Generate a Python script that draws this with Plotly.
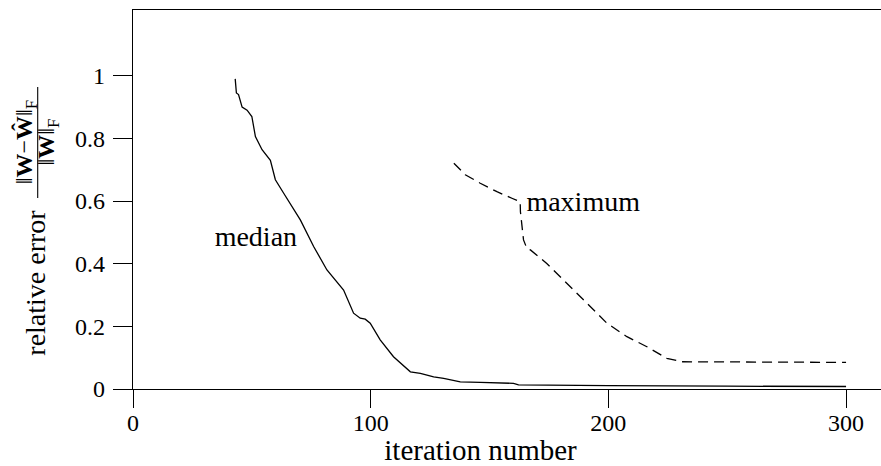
import plotly.graph_objects as go

# ---- data ----
median_iter = [43, 43.5, 44.4, 45.9, 48, 50, 51.5, 54.3, 57.8, 59.9, 63.4, 66.9, 70.4, 76, 81.6,
               88.6, 92.8, 95.6, 97.7, 99.8, 104, 109.6, 116.7, 120.9, 126.5, 130.7, 137.7,
               146.1, 160.1, 162.2, 174.2, 200, 250, 300]
median_err = [0.99, 0.945, 0.94, 0.90, 0.89, 0.87, 0.806, 0.764, 0.73, 0.668, 0.625, 0.582, 0.54,
              0.455, 0.38, 0.316, 0.242, 0.226, 0.223, 0.21, 0.157, 0.103, 0.055, 0.05, 0.039,
              0.034, 0.023, 0.021, 0.018, 0.013, 0.012, 0.011, 0.009, 0.008]

max_iter = [135, 139.8, 146.1, 153.1, 159.4, 162.9, 163, 164.3, 165.7, 167.2, 174.2, 182.6, 191,
            199.4, 207.8, 216.2, 224.6, 230.9, 260, 300]
max_err = [0.721, 0.684, 0.657, 0.63, 0.609, 0.598, 0.566, 0.476, 0.449, 0.444, 0.40, 0.338, 0.274,
           0.21, 0.167, 0.135, 0.098, 0.087, 0.086, 0.085]

series_names = ["median", "maximum"]
label_iter = [51.7, 189.4]
label_err = [0.478, 0.591]

x_ticks = [0, 100, 200, 300]
x_ticklabels = ["0", "100", "200", "300"]
y_ticks = [0, 0.2, 0.4, 0.6, 0.8, 1]
y_ticklabels = ["0", "0.2", "0.4", "0.6", "0.8", "1"]

x_title = "iteration number"
y_title = "relative error"
y_title_num = "‖<b>W</b>−<b>Ŵ</b>‖<sub>F</sub>"
y_title_den = "‖<b>W</b>‖<sub>F</sub>"

FONT = "Liberation Serif, DejaVu Serif, serif"
W, H = 881, 466
ML, MR, MT, MB = 133, 0, 10, 77
PW, PH = W - ML - MR, H - MT - MB


def px_x(px):
    return (px - ML) / PW


def px_y(py):
    return (H - MB - py) / PH


def dom_y(center_px, half):
    c = px_y(center_px)
    return [c - half, c + half]


def dom_x(center_px, half):
    c = px_x(center_px)
    return [c - half, c + half]


fig = go.Figure()
fig.add_trace(go.Scatter(x=median_iter, y=median_err, mode="lines",
                         line=dict(color="black", width=1.3), showlegend=False, hoverinfo="skip"))
fig.add_trace(go.Scatter(x=max_iter, y=max_err, mode="lines",
                         line=dict(color="black", width=1.3, dash="10px,6px"),
                         showlegend=False, hoverinfo="skip"))
fig.add_trace(go.Scatter(x=label_iter, y=label_err, mode="text", text=series_names,
                         textposition="middle center",
                         textfont=dict(size=28, family=FONT, color="black"),
                         showlegend=False, hoverinfo="skip"))
# empty traces so the title-carrying helper axes get drawn
for xa, ya in [("x2", "y"), ("x", "y2"), ("x", "y3"), ("x", "y4")]:
    fig.add_trace(go.Scatter(x=[], y=[], xaxis=xa, yaxis=ya, mode="lines",
                             showlegend=False, hoverinfo="skip"))

hidden = dict(showline=False, showticklabels=False, ticks="", showgrid=False,
              zeroline=False, fixedrange=True)

fig.update_layout(
    width=W, height=H,
    margin=dict(l=ML, r=MR, t=MT, b=MB, pad=0),
    paper_bgcolor="white", plot_bgcolor="rgba(0,0,0,0)",
    font=dict(family=FONT, color="black", size=23),
    showlegend=False,
    xaxis=dict(range=[0, 314.7], domain=[0, 1], tickvals=x_ticks, ticktext=x_ticklabels,
               ticks="outside", ticklen=18, tickwidth=1.2, tickcolor="black",
               showline=True, linecolor="black", linewidth=1.3, mirror=True,
               showgrid=False, zeroline=False, ticklabelstandoff=-6,
               tickfont=dict(size=24, family=FONT)),
    yaxis=dict(range=[0, 1.21], domain=[0, 1], tickvals=y_ticks, ticktext=y_ticklabels,
               ticks="outside", ticklen=19, tickwidth=1.2, tickcolor="black",
               showline=True, linecolor="black", linewidth=1.3, mirror=False,
               showgrid=False, zeroline=False, ticklabelstandoff=3,
               tickfont=dict(size=24, family=FONT)),
    # helper axes that only carry the (positioned) axis titles
    xaxis2=dict(anchor="free", position=0, domain=dom_x(480.5, 0.3), **hidden,
                title=dict(text=x_title, font=dict(size=29, family=FONT), standoff=51)),
    yaxis2=dict(anchor="free", position=0, domain=dom_y(283, 0.2), **hidden,
                title=dict(text=y_title, font=dict(size=28, family=FONT), standoff=78)),
    yaxis3=dict(anchor="free", position=0, domain=dom_y(142, 0.12), **hidden,
                title=dict(text=y_title_num, font=dict(size=24, family=FONT), standoff=92)),
    yaxis4=dict(anchor="free", position=0, domain=dom_y(142, 0.12), **hidden,
                title=dict(text=y_title_den, font=dict(size=24, family=FONT), standoff=70)),
)

# fraction bar of the y axis title
fig.add_shape(type="line", xref="paper", yref="paper",
              x0=px_x(37.7), x1=px_x(37.7), y0=px_y(198), y1=px_y(87),
              line=dict(color="black", width=1.1))

fig.write_html("out.html")
